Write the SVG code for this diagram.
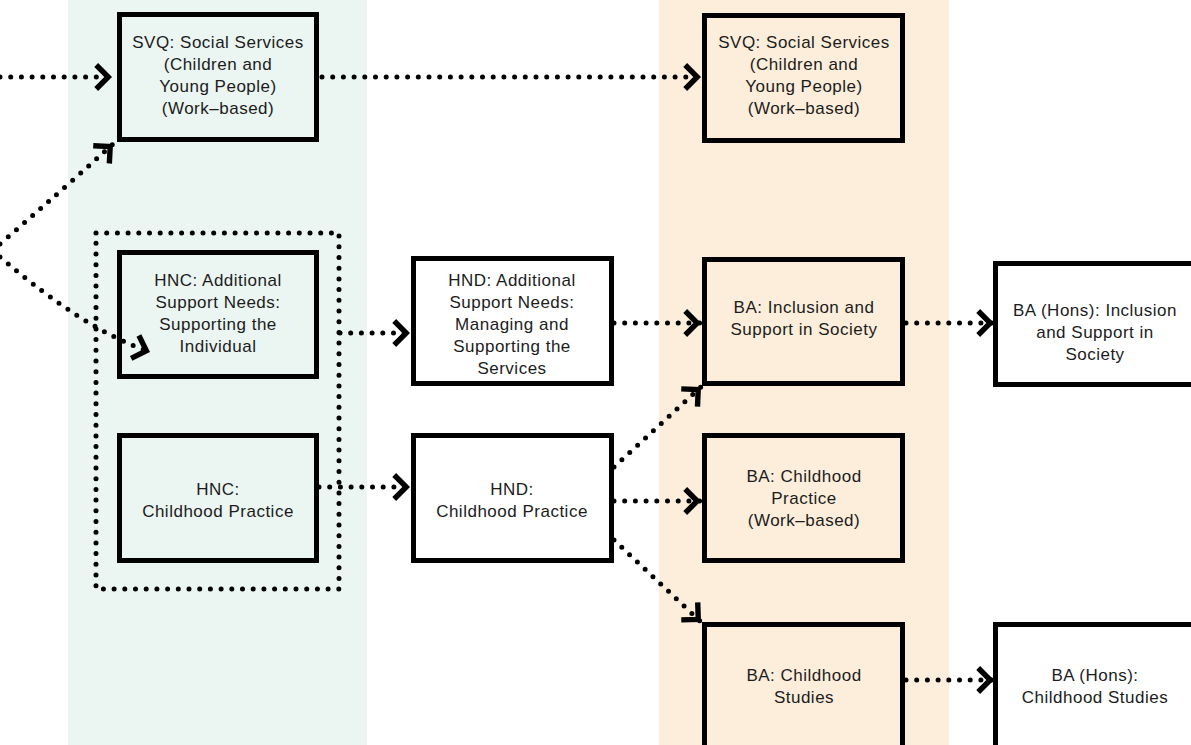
<svg xmlns="http://www.w3.org/2000/svg" width="1191" height="745" viewBox="0 0 1191 745">
<style>
.bg{fill:#ffffff}
.col-g{fill:#ebf5f1}
.col-o{fill:#fdeedb}
.box{stroke:#000;stroke-width:5;fill:#ffffff}
.box.g{fill:#ebf5f1}
.box.o{fill:#fdeedb}
.lbl{font-family:"Liberation Sans",Arial,sans-serif;font-size:17px;letter-spacing:0.5px;fill:#1c1c1c;text-anchor:middle}
.dot{fill:none;stroke:#000;stroke-width:5;stroke-linecap:round;stroke-dasharray:0 10.7}
.conn{fill:none;stroke:#000;stroke-width:5;stroke-linecap:round;stroke-dasharray:0 10.7;marker-end:url(#chev)}
</style>
<defs>
<marker id="chev" markerUnits="userSpaceOnUse" markerWidth="40" markerHeight="40" viewBox="-20 -20 40 40" refX="3.8" refY="0" orient="auto">
<path d="M-12,-12 L0,0 L-12,12" fill="none" stroke="#000" stroke-width="5.4" stroke-linejoin="miter" stroke-linecap="butt"/>
</marker>
</defs>
<rect class="bg" x="0" y="0" width="1191" height="745"/>
<rect class="col-g" x="68" y="0" width="299" height="745"/>
<rect class="col-o" x="659" y="0" width="290" height="745"/>

<g id="hnc-group">
<rect class="dot" x="96" y="233" width="243" height="356"/>
</g>

<g id="svq-1">
<rect class="box g" x="119.5" y="14.5" width="197" height="125"/>
<text class="lbl" x="218" y="48">SVQ: Social Services</text>
<text class="lbl" x="218" y="70">(Children and</text>
<text class="lbl" x="218" y="92">Young People)</text>
<text class="lbl" x="218" y="114">(Work–based)</text>
</g>
<g id="hnc-asn">
<rect class="box g" x="119.5" y="252.5" width="197" height="124"/>
<text class="lbl" x="218" y="286">HNC: Additional</text>
<text class="lbl" x="218" y="308">Support Needs:</text>
<text class="lbl" x="218" y="330">Supporting the</text>
<text class="lbl" x="218" y="352">Individual</text>
</g>
<g id="hnc-cp">
<rect class="box g" x="119.5" y="435.5" width="197" height="125"/>
<text class="lbl" x="218" y="495">HNC:</text>
<text class="lbl" x="218" y="517">Childhood Practice</text>
</g>
<g id="hnd-asn">
<rect class="box" x="413.5" y="258.5" width="198" height="125"/>
<text class="lbl" x="512" y="286">HND: Additional</text>
<text class="lbl" x="512" y="308">Support Needs:</text>
<text class="lbl" x="512" y="330">Managing and</text>
<text class="lbl" x="512" y="352">Supporting the</text>
<text class="lbl" x="512" y="374">Services</text>
</g>
<g id="hnd-cp">
<rect class="box" x="413.5" y="435.5" width="198" height="125"/>
<text class="lbl" x="512" y="495">HND:</text>
<text class="lbl" x="512" y="517">Childhood Practice</text>
</g>
<g id="svq-2">
<rect class="box o" x="704.5" y="15.5" width="198" height="125"/>
<text class="lbl" x="804" y="48">SVQ: Social Services</text>
<text class="lbl" x="804" y="70">(Children and</text>
<text class="lbl" x="804" y="92">Young People)</text>
<text class="lbl" x="804" y="114">(Work–based)</text>
</g>
<g id="ba-inc">
<rect class="box o" x="704.5" y="259.5" width="198" height="124"/>
<text class="lbl" x="804" y="313">BA: Inclusion and</text>
<text class="lbl" x="804" y="335">Support in Society</text>
</g>
<g id="ba-cp">
<rect class="box o" x="704.5" y="435.5" width="198" height="125"/>
<text class="lbl" x="804" y="482">BA: Childhood</text>
<text class="lbl" x="804" y="504">Practice</text>
<text class="lbl" x="804" y="526">(Work–based)</text>
</g>
<g id="ba-cs">
<rect class="box o" x="704.5" y="624.5" width="198" height="140"/>
<text class="lbl" x="804" y="681">BA: Childhood</text>
<text class="lbl" x="804" y="703">Studies</text>
</g>
<g id="bahons-inc">
<rect class="box" x="995.5" y="263.5" width="198" height="121"/>
<text class="lbl" x="1095" y="316">BA (Hons): Inclusion</text>
<text class="lbl" x="1095" y="338">and Support in</text>
<text class="lbl" x="1095" y="360">Society</text>
</g>
<g id="bahons-cs">
<rect class="box" x="995.5" y="624.5" width="198" height="140"/>
<text class="lbl" x="1095" y="681">BA (Hons):</text>
<text class="lbl" x="1095" y="703">Childhood Studies</text>
</g>

<g id="connectors">
<path class="conn" d="M0 77 L112 77"/>
<path class="conn" d="M322 77 L701 77"/>
<path class="conn" d="M0 244 Q60 192 113 144"/>
<path class="conn" d="M0 257 Q85 330 150 352"/>
<path class="conn" d="M340 333 L410 333"/>
<path class="conn" d="M319 487 L410 487"/>
<path class="conn" d="M614 323 L701 323"/>
<path class="conn" d="M614 467 L701 387"/>
<path class="conn" d="M614 501 L701 501"/>
<path class="conn" d="M614 540 L701 622"/>
<path class="conn" d="M906 323 L994 323"/>
<path class="conn" d="M906 680 L994 680"/>
</g>
</svg>
